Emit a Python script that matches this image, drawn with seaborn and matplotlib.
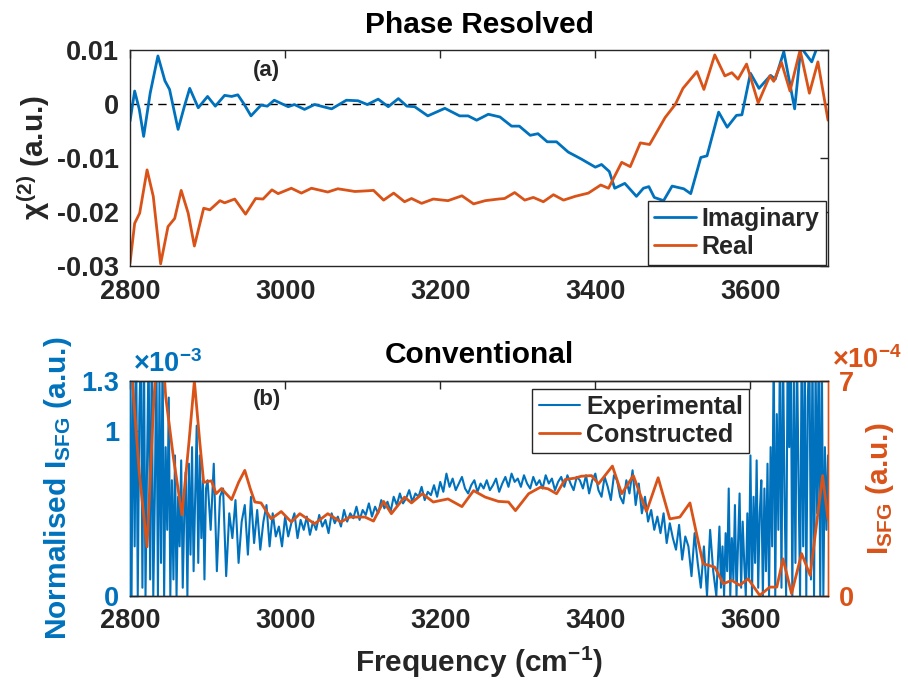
import numpy as np
import pandas as pd
import matplotlib
matplotlib.use("Agg")
import matplotlib.pyplot as plt
import seaborn as sns

# ---------------- data ----------------
# (a) phase resolved, chi(2) in units of 1e-3
imag_freq = [2800, 2806, 2812, 2817.6, 2826, 2836, 2845, 2851, 2862, 2870, 2877, 2888, 2900,
             2910, 2922, 2931, 2939, 2947, 2956, 2969, 2977, 2986, 3004, 3012, 3025, 3038,
             3060, 3079, 3094, 3106, 3120, 3133, 3146, 3157, 3167, 3184, 3206, 3225, 3236,
             3247, 3262, 3277, 3292, 3302, 3316, 3326, 3338, 3350, 3365, 3382, 3400, 3408,
             3418, 3425, 3438, 3453, 3462, 3469, 3476, 3488, 3499, 3514, 3523, 3536, 3544,
             3559, 3570, 3582, 3589, 3600, 3611, 3626, 3632, 3643, 3657, 3665, 3679, 3686,
             3694, 3700]
imag_vals = [-3.2, 2.4, -1.0, -6.0, 2.0, 8.9, 4.3, 2.7, -4.7, -0.5, 2.9, -0.7, 1.4,
             -0.4, 1.6, 1.4, 1.7, 0.0, -2.2, -0.2, -0.4, 0.7, -0.5, -0.1, -1.0, -0.1,
             -0.9, 0.7, 0.6, -0.1, 0.9, -0.5, 1.0, -0.4, -0.5, -2.2, -0.8, -2.2, -2.2,
             -3.0, -1.9, -2.4, -4.1, -4.1, -5.8, -5.5, -7.0, -7.0, -8.9, -10.2, -11.7, -11.2,
             -12.5, -15.6, -14.7, -17.1, -15.6, -15.3, -17.3, -17.9, -15.2, -15.7, -16.6, -9.9, -9.6,
             -1.5, -4.3, -2.1, -2.0, 5.7, 2.9, 5.3, 4.6, 9.7, -0.9, 10.5, 7.8, 10.5,
             13.0, 14.0]
real_freq = [2800, 2806, 2812.5, 2822, 2830, 2839.5, 2849, 2857.6, 2866, 2875, 2883, 2895,
             2903, 2916, 2922, 2935, 2949, 2962, 2971.5, 2983, 2991, 3008, 3021, 3034, 3055,
             3068, 3090, 3103, 3114, 3127, 3140, 3154, 3163, 3176, 3191, 3210, 3228, 3243,
             3258, 3275, 3283, 3296, 3309, 3320, 3333, 3346, 3359, 3374, 3391, 3407, 3417,
             3434, 3445, 3458, 3470, 3490, 3503, 3513, 3531, 3540, 3554, 3567, 3576, 3584,
             3595, 3610, 3625, 3630, 3640, 3651, 3664, 3676, 3687, 3700]
real_vals = [-29.5, -22.1, -20.2, -12.2, -17.1, -29.6, -22.7, -21.2, -16.0, -20.2, -26.3, -19.3,
             -19.6, -17.9, -18.3, -17.6, -20.4, -17.5, -17.6, -15.9, -16.6, -15.6, -16.5, -15.6, -16.3,
             -15.7, -16.2, -16.1, -16.0, -17.8, -16.5, -18.1, -17.5, -18.4, -17.6, -17.9, -17.0, -18.5,
             -17.9, -17.6, -17.5, -16.4, -17.8, -17.3, -18.1, -16.8, -17.8, -17.1, -16.5, -15.0, -15.6,
             -10.8, -11.6, -7.2, -7.5, -2.5, -0.1, 2.9, 6.0, 2.7, 9.1, 5.2, 5.8, 4.6,
             7.4, 0.2, 5.2, 4.2, 7.7, 2.4, 10.0, 2.0, 7.8, -3.0]

# (b) conventional: experimental (left axis, x1e-3)
# segment A: 2800-2898 every 2 cm-1
exp_vals_a = [1.5, 0.0, 1.5, 0.3, 1.5, 0.0, 1.1, 1.5, 0.05, 1.5,
              0.0, 0.8, 1.5, 0.1, 1.5, 0.0, 0.6, 1.5, 0.0, 1.3,
              0.2, 1.5, 0.0, 0.9, 0.4, 1.2, 0.0, 0.7, 0.1, 0.85,
              0.0, 0.6, 0.3, 0.82, 0.05, 0.5, 0.75, 0.0, 0.8, 0.25,
              0.9, 0.15, 0.6, 1.03, 0.2, 0.85, 0.35, 0.7, 0.1, 0.65]
# segment B: 2900-3556 every 4 cm-1
exp_vals_b = [0.7, 0.4, 0.8, 0.15, 0.6,
              0.65, 0.12, 0.5, 0.35, 0.58, 0.2, 0.45, 0.55, 0.25, 0.6,
              0.32, 0.52, 0.28, 0.45, 0.55, 0.3, 0.5, 0.36, 0.42, 0.3,
              0.48, 0.36, 0.44, 0.5, 0.35, 0.46, 0.4, 0.48, 0.37, 0.45,
              0.4, 0.49, 0.42, 0.46, 0.38, 0.5, 0.44, 0.48, 0.42, 0.52,
              0.45, 0.5, 0.47, 0.54, 0.46, 0.52, 0.49, 0.56, 0.48, 0.54,
              0.5, 0.58, 0.53, 0.57, 0.51, 0.6, 0.55, 0.62, 0.56, 0.59,
              0.64, 0.57, 0.62, 0.6, 0.66, 0.58, 0.63, 0.61, 0.67, 0.6,
              0.69, 0.63, 0.74, 0.66, 0.71, 0.64, 0.68, 0.72, 0.65, 0.62,
              0.67, 0.7, 0.63, 0.68, 0.65, 0.7, 0.64, 0.67, 0.71, 0.63,
              0.68, 0.72, 0.66, 0.74, 0.69, 0.71, 0.66, 0.73, 0.68, 0.65,
              0.72, 0.67, 0.7, 0.65, 0.73, 0.68, 0.71, 0.64, 0.69, 0.72,
              0.66, 0.73, 0.68, 0.64, 0.72, 0.7, 0.65, 0.73, 0.62, 0.7,
              0.74, 0.64, 0.6, 0.72, 0.66, 0.58, 0.73, 0.7, 0.6, 0.56,
              0.7, 0.62, 0.76, 0.55, 0.68, 0.5, 0.6, 0.45, 0.52, 0.4,
              0.48, 0.38, 0.5, 0.32, 0.44, 0.35, 0.28, 0.43, 0.22, 0.36,
              0.3, 0.12, 0.38, 0.2, 0.05, 0.3, 0.0, 0.4, 0.15, 0.0]
# segment C: 3560-3700 every 2 cm-1
exp_vals_c = [0.42, 0.05, 0.3, 0.0, 0.38, 0.15, 0.65, 0.0, 0.35, 0.1,
              0.55, 0.0, 0.3, 0.62, 0.05, 0.45, 0.2, 0.0, 0.5, 0.1,
              0.85, 0.0, 0.6, 0.2, 0.82, 0.05, 0.5, 0.7, 0.0, 0.65,
              0.15, 0.8, 0.0, 0.9, 0.3, 1.5, 0.0, 1.1, 0.4, 1.5,
              0.05, 1.5, 0.6, 0.0, 1.5, 0.9, 1.5, 0.0, 1.3, 0.2,
              1.5, 0.7, 0.0, 1.5, 0.3, 1.5, 0.0, 1.2, 1.5, 0.1,
              1.5, 0.0, 1.4, 0.5, 1.5, 0.0, 1.5, 0.0, 0.9, 0.4,
              0.85]
exp_freq = np.concatenate([
    np.linspace(2800, 2898, len(exp_vals_a)),
    np.linspace(2900, 3556, len(exp_vals_b)),
    np.linspace(3560, 3700, len(exp_vals_c)),
])
exp_vals = exp_vals_a + exp_vals_b + exp_vals_c

# constructed (right axis, x1e-4)
con_freq = [2800, 2812, 2822, 2830, 2838, 2846, 2856, 2867, 2876, 2883, 2890, 2895, 2905, 2911,
            2918, 2924, 2931, 2940, 2948, 2955, 2961, 2969, 2982, 2995, 3008, 3019, 3038, 3055,
            3072, 3083, 3103, 3114, 3127, 3137, 3154, 3163, 3177, 3191, 3210, 3228, 3243, 3258,
            3275, 3288, 3297, 3314, 3329, 3339, 3350, 3361, 3374, 3382, 3395, 3404, 3422, 3434,
            3449, 3466, 3481, 3496, 3509, 3522, 3531, 3539, 3554, 3565, 3576, 3586, 3597, 3612,
            3625, 3634, 3642, 3653, 3666, 3677, 3693, 3700]
con_vals = [8.0, 4.0, 1.6, 6.0, 9.5, 6.5, 4.5, 2.64, 5.0, 7.0, 5.0, 3.7, 3.75, 3.33,
            3.5, 3.33, 3.14, 3.7, 4.09, 3.5, 3.06, 3.03, 2.51, 2.75, 2.41, 2.68, 2.35, 2.68,
            2.41, 2.57, 2.57, 2.44, 3.08, 2.68, 3.22, 3.03, 3.33, 3.06, 3.16, 2.91, 3.43, 3.22,
            3.08, 3.06, 2.78, 3.33, 3.54, 3.49, 3.33, 3.79, 3.84, 3.90, 3.92, 3.65, 4.23, 3.33,
            3.92, 2.75, 3.85, 2.51, 2.57, 3.03, 1.97, 1.05, 0.94, 0.40, 0.51, 0.35, 0.56, 0.02,
            0.29, 0.29, 1.21, 0.08, 1.38, 0.67, 3.92, 2.5]

x_ticks = [2800, 3000, 3200, 3400, 3600]
top_yticks = [-0.03, -0.02, -0.01, 0, 0.01]
top_yticklabels = ["-0.03", "-0.02", "-0.01", "0", "0.01"]
left_yticks = [0, 1, 1.3]
left_yticklabels = ["0", "1", "1.3"]
right_yticks = [0, 7]
right_yticklabels = ["0", "7"]

BLUE = "#0072BD"
ORANGE = "#D95319"
GRAY = "#262626"

# ---------------- style ----------------
sns.set_theme(style="white")
plt.rcParams["font.family"] = ["Liberation Sans", "DejaVu Sans"]
plt.rcParams["font.weight"] = "bold"
plt.rcParams["axes.labelweight"] = "bold"
plt.rcParams["axes.titleweight"] = "bold"
plt.rcParams["mathtext.fontset"] = "custom"
plt.rcParams["mathtext.rm"] = "Liberation Sans:bold"
plt.rcParams["mathtext.bf"] = "Liberation Sans:bold"
plt.rcParams["mathtext.it"] = "Liberation Sans"
plt.rcParams["axes.unicode_minus"] = False

TICK = 19.5
LABEL = 21.5

fig = plt.figure(figsize=(9.08, 6.83), dpi=100)
ax1 = fig.add_axes([130 / 908, 1 - 266 / 683, 698 / 908, 216 / 683])
ax2 = fig.add_axes([130 / 908, 1 - 596 / 683, 698 / 908, 215 / 683])

# ---------------- (a) ----------------
ax1.axhline(0, color="black", lw=1.0, ls=(0, (6, 4)), zorder=1.5)
sns.lineplot(x=imag_freq, y=np.array(imag_vals) * 1e-3, ax=ax1, color=BLUE, lw=2.0,
             sort=False, estimator=None, errorbar=None)
sns.lineplot(x=real_freq, y=np.array(real_vals) * 1e-3, ax=ax1, color=ORANGE, lw=2.0,
             sort=False, estimator=None, errorbar=None)
ax1.set_xlim(2800, 3700)
ax1.set_ylim(-0.03, 0.01)
ax1.set_xticks(x_ticks)
ax1.set_xticklabels([str(t) for t in x_ticks])
ax1.set_yticks(top_yticks)
ax1.set_yticklabels(top_yticklabels)
ax1.tick_params(axis="both", direction="in", length=6, width=1, colors=GRAY,
                labelsize=TICK, labelcolor=GRAY, top=True, right=True)
ax1.tick_params(axis="x", pad=9)
ax1.tick_params(axis="y", pad=8)
for s in ax1.spines.values():
    s.set_color(GRAY)
    s.set_linewidth(1.0)
ax1.set_title("Phase Resolved", fontsize=LABEL, fontweight="bold", pad=12, color="black")
ax1.set_ylabel(r"$\chi^{\mathbf{(2)}}$ (a.u.)", fontsize=LABEL, color=GRAY)
ax1.yaxis.set_label_coords(-0.112, 0.5)
ax1.set_xlabel("")
ax1.text(0.196, 0.907, "(a)", transform=ax1.transAxes, ha="center", va="center",
         fontsize=16, fontweight="bold", color=GRAY)
h = ax1.get_lines()[1:3]
leg1 = ax1.legend(h, ["Imaginary", "Real"], loc="lower right", bbox_to_anchor=(0.997, 0.005),
                  fontsize=18, frameon=True, fancybox=False, edgecolor=GRAY, framealpha=1,
                  borderaxespad=0, handlelength=1.65, handletextpad=0.25, borderpad=0.25,
                  labelspacing=0.15)
leg1.get_frame().set_linewidth(1.0)

# ---------------- (b) ----------------
sns.lineplot(x=exp_freq, y=exp_vals, ax=ax2, color=BLUE, lw=1.5,
             sort=False, estimator=None, errorbar=None)
ax2r = ax2.twinx()
sns.lineplot(x=con_freq, y=con_vals, ax=ax2r, color=ORANGE, lw=2.0,
             sort=False, estimator=None, errorbar=None)
ax2.set_xlim(2800, 3700)
ax2.set_ylim(0, 1.3)
ax2r.set_ylim(0, 7)
ax2.set_xticks(x_ticks)
ax2.set_xticklabels([str(t) for t in x_ticks])
ax2.set_yticks(left_yticks)
ax2.set_yticklabels(left_yticklabels)
ax2r.set_yticks(right_yticks)
ax2r.set_yticklabels(right_yticklabels)
ax2.tick_params(axis="x", direction="in", length=6, width=1, colors=GRAY, labelsize=TICK,
                top=True, pad=9)
ax2.tick_params(axis="y", direction="in", length=6, width=1, colors=BLUE, labelsize=TICK,
                labelcolor=BLUE, pad=8, right=False)
ax2r.tick_params(axis="y", direction="in", length=6, width=1, colors=ORANGE, labelsize=TICK,
                 labelcolor=ORANGE, pad=8)
for a in (ax2, ax2r):
    for k, s in a.spines.items():
        s.set_linewidth(1.0)
        s.set_color(GRAY)
    a.spines["left"].set_color(BLUE)
    a.spines["right"].set_color(ORANGE)
ax2.set_title("Conventional", fontsize=LABEL, fontweight="bold", pad=13, color="black")
ax2.set_xlabel(r"Frequency (cm$^{\mathbf{-1}}$)", fontsize=LABEL, color=GRAY)
ax2.xaxis.set_label_coords(0.5, -0.225)
ax2.set_ylabel(r"Normalised I$_{\mathbf{SFG}}$ (a.u.)", fontsize=LABEL, color=BLUE)
ax2.yaxis.set_label_coords(-0.08, 0.5)
ax2r.set_ylabel(r"I$_{\mathbf{SFG}}$ (a.u.)", fontsize=LABEL, color=ORANGE)
ax2r.yaxis.set_label_coords(1.052, 0.5)
ax2r.set_xlabel("")
ax2.text(0.196, 0.916, "(b)", transform=ax2.transAxes, ha="center", va="center",
         fontsize=16, fontweight="bold", color=GRAY)
fig.text(133 / 908, 1 - 372 / 683, r"×10$^{\mathbf{-3}}$", color=BLUE, fontsize=TICK,
         ha="left", va="baseline")
fig.text(832 / 908, 1 - 368 / 683, r"×10$^{\mathbf{-4}}$", color=ORANGE, fontsize=TICK,
         ha="left", va="baseline")
hb = [ax2.get_lines()[0], ax2r.get_lines()[0]]
leg2 = ax2r.legend(hb, ["Experimental", "Constructed"], loc="upper right",
                   bbox_to_anchor=(0.887, 0.963), fontsize=18, frameon=True, fancybox=False,
                   edgecolor=GRAY, framealpha=1, borderaxespad=0, handlelength=1.65,
                   handletextpad=0.25, borderpad=0.25, labelspacing=0.15)
leg2.get_frame().set_linewidth(1.0)

fig.savefig("out.png", dpi=100, facecolor="white")
